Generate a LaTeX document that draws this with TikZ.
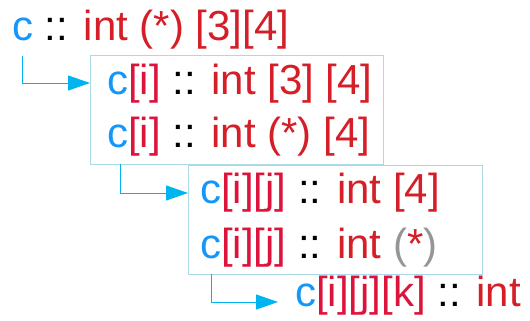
\documentclass[tikz,border=0pt]{standalone}
\usepackage{fontspec}
\setmainfont{Liberation Sans}
\usetikzlibrary{arrows.meta}
\definecolor{cblue}{RGB}{20,150,250}
\definecolor{cred}{RGB}{212,30,40}
\definecolor{ccrim}{RGB}{220,20,60}
\definecolor{cgray}{RGB}{150,150,150}
\definecolor{cbox}{RGB}{170,218,232}
\definecolor{carrow}{RGB}{0,180,240}
\newcommand{\vb}[1]{\textcolor{cblue}{#1}}
\newcommand{\vr}[1]{\textcolor{cred}{#1}}
\newcommand{\vk}[1]{\textcolor{ccrim}{#1}}
\newcommand{\vg}[1]{\textcolor{cgray}{#1}}
\tikzset{
  txt/.style={anchor=base west, inner sep=0pt, font=\fontsize{42}{48}\selectfont},
  box/.style={draw=cbox, line width=1pt, inner sep=0pt},
  conn/.style={draw=carrow, line width=1pt, -{Triangle[length=22pt,width=15pt]}}
}
\begin{document}
\begin{tikzpicture}[x=1pt,y=-1pt]
\useasboundingbox (0,0) rectangle (530,321);
\node[box, minimum width=293pt, minimum height=108pt] (box1) at (236.5,110) {};
\node[box, minimum width=294pt, minimum height=109pt] (box2) at (335,219.5) {};
\node[txt] (l1) at (12,41) {\vb{c} :: \vr{int (*) [3][4]}};
\node[txt] (l2) at (107,95) {\vb{c}\vk{[i]} :: \vr{int [3] [4]}};
\node[txt] (l3) at (107,147) {\vb{c}\vk{[i]} :: \vr{int (*) [4]}};
\node[txt] (l4) at (200,203) {\vb{c}\vk{[i][j]} :: \vr{int [4]}};
\node[txt] (l5) at (200,258) {\vb{c}\vk{[i][j]} :: \vr{int} \vg{(}\vr{*}\vg{)}};
\node[txt] (l6) at (295,306) {\vb{c}\vk{[i][j][k]} :: \vr{int}};
\coordinate (s1) at (22,56);
\coordinate (t1) at (90,83);
\coordinate (s2) at (120,164);
\coordinate (t2) at (188,193);
\coordinate (s3) at (211,274);
\coordinate (t3) at (278,302);
\draw[conn] (s1) |- (t1);
\draw[conn] (s2) |- (t2);
\draw[conn] (s3) |- (t3);
\end{tikzpicture}
\end{document}
